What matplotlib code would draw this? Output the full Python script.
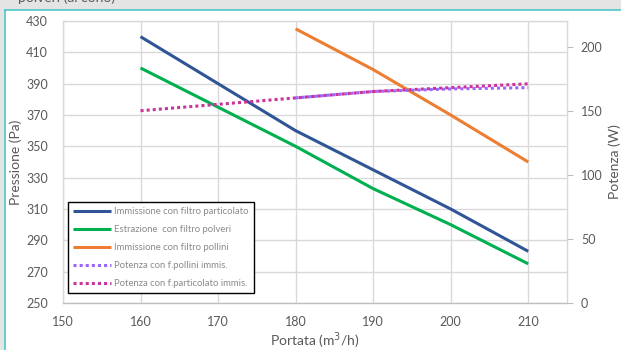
import matplotlib
matplotlib.use("Agg")
import matplotlib.pyplot as plt
from matplotlib.patches import Rectangle
from matplotlib.lines import Line2D
from matplotlib import font_manager

# ---- data ----
portata = [160, 170, 180, 190, 200, 210]
imm_particolato = [420, 390, 360, 335, 310, 283]
estr_polveri = [400, 375, 350, 323, 300, 275]
portata_pollini = [180, 190, 200, 210]
imm_pollini = [425, 399, 370, 340]
pot_pollini = [160, 165, 167, 168]
pot_particolato = [150, 155, 160, 165, 168, 171]

labels = ["Immissione con filtro particolato",
          "Estrazione  con filtro polveri",
          "Immissione con filtro pollini",
          "Potenza con f.pollini immis.",
          "Potenza con f.particolato immis."]
x_ticks = [150, 160, 170, 180, 190, 200, 210]
y_ticks = [250, 270, 290, 310, 330, 350, 370, 390, 410, 430]
y2_ticks = [0, 50, 100, 150, 200]

c_blue = "#2F5597"
c_green = "#00B050"
c_orange = "#ED7D31"
c_purple = "#9966FF"
c_magenta = "#CC3399"
txt = "#595959"
grid = "#d9d9d9"

avail = {f.name for f in font_manager.fontManager.ttflist}
main_font = "Lato" if "Lato" in avail else "DejaVu Sans"
narrow_font = "Liberation Sans Narrow" if "Liberation Sans Narrow" in avail else main_font
plt.rcParams['font.family'] = [main_font, 'DejaVu Sans']

W, H = 621, 350
fig = plt.figure(figsize=(W/100, H/100), dpi=100)
fig.patch.set_facecolor("#e4e4e4")
# white chart area with cyan border
bg = Rectangle((5/W, 0), 1, (H-10)/H, transform=fig.transFigure,
               facecolor="white", edgecolor="none", zorder=-10)
fig.add_artist(bg)
fig.add_artist(Line2D([5/W, 1], [(H-10)/H]*2, color="#4fc4c9", lw=1.2,
                      transform=fig.transFigure, zorder=-5))
fig.add_artist(Line2D([5/W]*2, [0, (H-10)/H], color="#4fc4c9", lw=1.2,
                      transform=fig.transFigure, zorder=-5))
fig.text(18/W, 1.006, "polveri (a. cono)", color=txt, fontsize=10, ha="left", va="center")

ax = fig.add_axes([63/W, (H-303)/H, (567-63)/W, (303-21)/H])
ax.set_facecolor("white")
ax.set_xlim(150, 215)
ax.set_ylim(250, 430)
ax.set_xticks(x_ticks)
ax.set_yticks(y_ticks)
ax.grid(True, color=grid, lw=1)
ax.set_axisbelow(True)
for s in ax.spines.values():
    s.set_color(grid)
    s.set_linewidth(1)
ax.spines["bottom"].set_color("#bfbfbf")
ax.tick_params(axis="y", length=0, colors=txt, labelsize=9, pad=11)
ax.tick_params(axis="x", length=0, colors=txt, labelsize=9, pad=9)

ax.plot(portata, imm_particolato, color=c_blue, lw=2.2, label=labels[0], solid_capstyle="butt")
ax.plot(portata, estr_polveri, color=c_green, lw=2.2, label=labels[1], solid_capstyle="butt")
ax.plot(portata_pollini, imm_pollini, color=c_orange, lw=2.2, label=labels[2], solid_capstyle="butt")
ax.set_xlabel("Portata (m$^3$/h)", color=txt, fontsize=10, labelpad=2)
ax.set_ylabel("Pressione (Pa)", color=txt, fontsize=10, labelpad=3)

ax2 = ax.twinx()
ax2.set_ylim(0, 220)
ax2.set_yticks(y2_ticks)
for s in ax2.spines.values():
    s.set_visible(False)
ax2.tick_params(axis="y", length=4, color="#bfbfbf", labelcolor=txt, labelsize=9, pad=6)
ax2.plot(portata_pollini, pot_pollini, color=c_purple, lw=2.2, ls=(0, (1, 1)), label=labels[3])
ax2.plot(portata, pot_particolato, color=c_magenta, lw=2.2, ls=(0, (1, 1)), label=labels[4])
ax2.set_ylabel("Potenza (W)", color=txt, fontsize=10, labelpad=4)

h1, l1 = ax.get_legend_handles_labels()
h2, l2 = ax2.get_legend_handles_labels()
leg = ax2.legend(h1 + h2, l1 + l2, loc="lower left",
                 bbox_to_anchor=((68-63)/504, (303-293)/282),
                 prop={"family": narrow_font, "size": 6.8},
                 frameon=True, fancybox=False, framealpha=1, edgecolor="black",
                 handlelength=4.0, handletextpad=0.35, borderpad=0.55,
                 labelspacing=0.95, borderaxespad=0)
leg.get_frame().set_linewidth(1.0)
for t in leg.get_texts():
    t.set_color("#8a8a8a")

fig.savefig("out.png", dpi=100, facecolor=fig.get_facecolor())
